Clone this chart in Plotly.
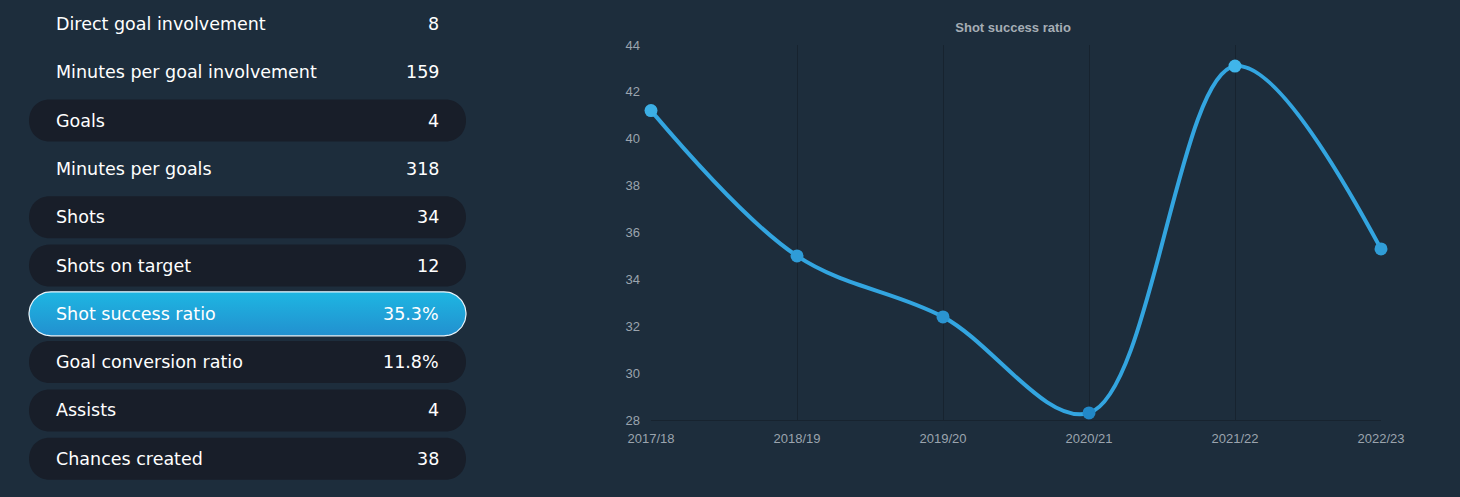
import numpy as np
import plotly.graph_objects as go

# ---------------- data ----------------
stat_labels = ["Direct goal involvement", "Minutes per goal involvement", "Goals",
               "Minutes per goals", "Shots", "Shots on target", "Shot success ratio",
               "Goal conversion ratio", "Assists", "Chances created"]
stat_values = ["8", "159", "4", "318", "34", "12", "35.3%", "11.8%", "4", "38"]
stat_pill = [False, False, True, False, True, True, True, True, True, True]
highlight_row = 6

seasons = ["2017/18", "2018/19", "2019/20", "2020/21", "2021/22", "2022/23"]
ratio = [41.2, 35.0, 32.4, 28.3, 43.1, 35.3]
y_ticks = [28, 30, 32, 34, 36, 38, 40, 42, 44]

# ---------------- layout constants ----------------
W, H = 1460, 497
BG = "#1d2d3c"
PILL = "#181e29"
ROW0, ROWSTEP = 24, 48.3
PX0, PX1, PR = 29, 466, 21
LABEL_X, VALUE_X = 54, 441

fig = go.Figure()

# ---- main chart ----
fig.add_trace(go.Scatter(
    x=seasons, y=ratio, mode="lines+markers",
    line=dict(shape="spline", smoothing=1.0, width=4, color="#33a5e0"),
    marker=dict(size=13, color=ratio, colorscale=[[0, "#2187c6"], [1, "#42b8ec"]],
                cmin=28, cmax=44),
    cliponaxis=False, hoverinfo="x+y", showlegend=False,
    xaxis="x", yaxis="y"))

# ---- left panel (pixel-space axis) ----
def pill_path(yc, r=PR):
    x0, x1 = PX0, PX1
    y0, y1 = yc - r, yc + r
    k = 4.0 / 3.0 * r
    return (f"M {x0+r},{y0} L {x1-r},{y0} C {x1-r+k},{y0} {x1-r+k},{y1} {x1-r},{y1} "
            f"L {x0+r},{y1} C {x0+r-k},{y1} {x0+r-k},{y0} {x0+r},{y0} Z")

shapes = []
for i, has in enumerate(stat_pill):
    yc = ROW0 + ROWSTEP * i
    if has and i != highlight_row:
        shapes.append(dict(type="path", path=pill_path(yc), xref="x2", yref="y2",
                           fillcolor=PILL, line=dict(width=0), layer="below"))

# highlighted pill as gradient-filled trace
yc = ROW0 + ROWSTEP * highlight_row
r = 22
t1 = np.linspace(-np.pi / 2, np.pi / 2, 40)
t2 = np.linspace(np.pi / 2, 3 * np.pi / 2, 40)
px = np.concatenate([PX1 - r + r * np.cos(t1), PX0 + r + r * np.cos(t2), [PX1 - r]])
py = np.concatenate([yc + r * np.sin(t1), yc + r * np.sin(t2), [yc - r]])
fig.add_trace(go.Scatter(
    x=px, y=py, mode="lines", fill="toself",
    fillgradient=dict(type="vertical", colorscale=[[0, "#2290cf"], [1, "#1eb6e2"]]),
    line=dict(color="#e8f4fb", width=1.2), hoverinfo="skip", showlegend=False,
    xaxis="x2", yaxis="y2"))

annotations = []
for i, (lab, val) in enumerate(zip(stat_labels, stat_values)):
    yc = ROW0 + ROWSTEP * i
    f = dict(family="DejaVu Sans, sans-serif", size=17.5, color="#ffffff")
    annotations.append(dict(x=LABEL_X, y=yc, xref="x2", yref="y2", text=lab,
                            showarrow=False, xanchor="left", yanchor="middle", font=f))
    annotations.append(dict(x=VALUE_X, y=yc, xref="x2", yref="y2", text=val,
                            showarrow=False, xanchor="right", yanchor="middle", font=f))

# ---- axes geometry ----
plot_x0, plot_x1 = 651, 1381
plot_ytop, plot_ybot = 45, 420
tick_font = dict(family="Liberation Sans, Arial, sans-serif", size=13, color="#9ba4ae")

fig.update_layout(
    width=W, height=H, autosize=False,
    margin=dict(l=0, r=0, t=0, b=0, pad=0, autoexpand=False),
    paper_bgcolor=BG, plot_bgcolor=BG,
    title=dict(text="<b>Shot success ratio</b>", x=(plot_x0 + plot_x1) / 2 / W - 0.002,
               xanchor="center", y=1 - 27 / H, yanchor="middle",
               font=dict(family="Liberation Sans, Arial, sans-serif", size=13, color="#a6adb5")),
    xaxis=dict(domain=[plot_x0 / W, plot_x1 / W], range=[0, 5], type="category",
               showgrid=True, gridcolor="#17232f", gridwidth=1,
               showline=True, linecolor="#17232f", linewidth=1,
               zeroline=False, ticks="", tickfont=tick_font, ticklabelstandoff=6,
               anchor="y", automargin=False),
    yaxis=dict(domain=[1 - plot_ybot / H, 1 - plot_ytop / H], range=[28, 44],
               tickvals=y_ticks, showgrid=False, zeroline=False, ticks="",
               tickfont=tick_font, ticklabelstandoff=10, anchor="x", automargin=False),
    xaxis2=dict(domain=[0, 480 / W], range=[0, 480], visible=False, fixedrange=True,
                anchor="y2", automargin=False),
    yaxis2=dict(domain=[0, 1], range=[H, 0], visible=False, fixedrange=True,
                anchor="x2", automargin=False),
    shapes=shapes, annotations=annotations,
)

fig.write_html("out.html", config={"displayModeBar": False},
               post_script="document.body.style.margin='0';document.body.style.overflow='hidden';")
